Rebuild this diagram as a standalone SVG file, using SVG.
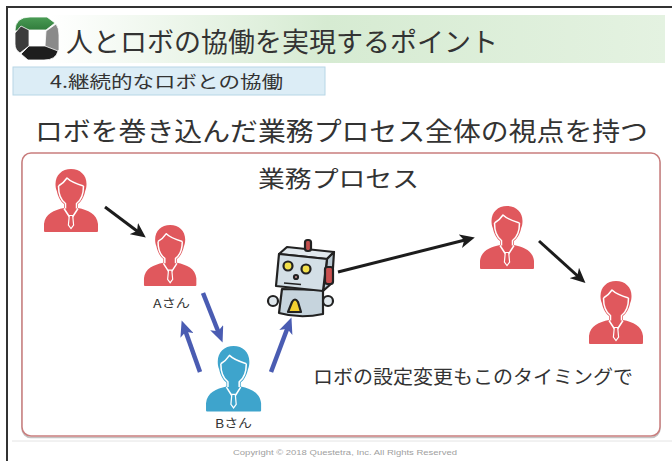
<svg xmlns="http://www.w3.org/2000/svg" width="672" height="461" viewBox="0 0 672 461">
  <style>
    .jp { font-family: "Noto Sans CJK JP", "Noto Sans", sans-serif; fill: #333; }
    .lat { font-family: "Liberation Sans", Arial, sans-serif; }
    .blk { fill: none; stroke: #1c1c1c; stroke-width: 3; }
    .blu { fill: none; stroke: #4a5cb2; stroke-width: 4.5; }
    .ol { stroke: #222; stroke-width: 2.2; stroke-linejoin: round; }
  </style>
  <defs>
    <linearGradient id="barGrad" x1="0" y1="0" x2="1" y2="0">
      <stop offset="0" stop-color="#ffffff"/>
      <stop offset="0.45" stop-color="#d6ebd2"/>
      <stop offset="1" stop-color="#e4f2e1"/>
    </linearGradient>
    <linearGradient id="logoGreen" x1="0" y1="0" x2="0" y2="1">
      <stop offset="0" stop-color="#4a9c55"/>
      <stop offset="1" stop-color="#2f7a3a"/>
    </linearGradient>
    <marker id="headBlack" markerUnits="userSpaceOnUse" markerWidth="16" markerHeight="14" refX="9" refY="7" orient="auto">
      <path d="M0,0 L15,7 L0,14 L4,7 Z" fill="#1c1c1c"/>
    </marker>
    <marker id="headBlue" markerUnits="userSpaceOnUse" markerWidth="17" markerHeight="14" refX="9" refY="7" orient="auto">
      <path d="M0,0 L16,7 L0,14 L4,7 Z" fill="#4a5cb2"/>
    </marker>
    <!-- business person icon, 56 x 64 box, body colour from currentColor -->
    <g id="man">
      <path fill="currentColor" d="M28,1 C19,1 12.5,7 12.5,16 C12.5,19 13,21 13.8,23 C15,29 18,34 21,36 L21,40 C11,42 2,46 1,56 L1,63 Q1,64 2,64 L54,64 Q55,64 55,63 L55,56 C54,46 45,42 35,40 L35,36 C38,34 41,29 42.2,23 C43,21 43.5,19 43.5,16 C43.5,7 37,1 28,1 Z"/>
      <path fill="none" stroke="#fff" stroke-width="1.5" stroke-linejoin="round" d="M15.5,18 C15.5,27 19,33 22.5,35.5 L22.5,40.5 M33.5,40.5 L33.5,35.5 C37,33 40.5,27 40.5,18 M15.5,18 C19,16 22,13 24,10 C28,14 34,16 40.5,18"/>
      <path fill="none" stroke="#fff" stroke-width="1.5" d="M21,40.5 L26.5,49 M35,40.5 L29.5,49"/>
      <path fill="currentColor" stroke="#fff" stroke-width="1.2" d="M26.3,47.5 L29.7,47.5 L30.6,57 L28,60.5 L25.4,57 Z"/>
    </g>
  </defs>

  <rect width="672" height="461" fill="#ffffff"/>

  <!-- page frame -->
  <path d="M7,461 L7,7 L672,7" fill="none" stroke="#333" stroke-width="2"/>

  <!-- header -->
  <g id="header">
    <rect x="50" y="15" width="615" height="48" fill="url(#barGrad)"/>
    <!-- four rotating arrow segments -->
    <g id="logo" stroke="#ffffff" stroke-width="0.8" stroke-linejoin="round">
      <path fill="url(#logoGreen)" d="M15,31 Q15,17 30,17 L47,17 L55,23 L46,30 L29,30 Z"/>
      <path fill="#8a8a8a" d="M46,31 L56,24 Q59,28 59,35 L59,50 L53,56 L45,46 Z"/>
      <path fill="#1e1e1e" d="M58,51 Q56,60 44,60 L28,60 L21,54 L29,46 L45,46 Z"/>
      <path fill="#3c3c3c" d="M29,46 L20,53 Q15,50 15,44 L15,33 L21,26 L29,30 Z"/>
    </g>
    <text class="jp" x="66" y="52" font-size="27">人とロボの協働を実現するポイント</text>
  </g>

  <g id="subtitle">
    <rect x="13" y="67" width="312" height="28" fill="#dcedf6" stroke="#b7d6e6" stroke-width="1"/>
    <text class="jp" x="50" y="88" font-size="17" textLength="233" lengthAdjust="spacingAndGlyphs">4.継続的なロボとの協働</text>
  </g>

  <text class="jp" x="35" y="141" font-size="26" textLength="613" lengthAdjust="spacingAndGlyphs">ロボを巻き込んだ業務プロセス全体の視点を持つ</text>

  <!-- process frame -->
  <g id="process">
    <rect x="22" y="154.5" width="638" height="283" rx="9" fill="none" stroke="#c4c4c4" stroke-width="1.5"/>
    <rect x="22" y="153" width="638" height="283" rx="9" fill="#fff" stroke="#c97d7d" stroke-width="1.5"/>
    <text class="jp" x="258" y="187" font-size="23" textLength="161" lengthAdjust="spacingAndGlyphs">業務プロセス</text>
  </g>

  <!-- connectors -->
  <g id="connectors">
    <path class="blk" d="M105,207 L141,234" marker-end="url(#headBlack)"/>
    <path class="blk" d="M338,272 L469,239" marker-end="url(#headBlack)"/>
    <path class="blk" d="M539,241 L581,279" marker-end="url(#headBlack)"/>
    <path class="blu" d="M203,293 L220,336" marker-end="url(#headBlue)"/>
    <path class="blu" d="M200,372 L184,327" marker-end="url(#headBlue)"/>
    <path class="blu" d="M271,372 L289,324" marker-end="url(#headBlue)"/>
  </g>

  <!-- people -->
  <g id="person1" color="#e0585d"><use href="#man" transform="translate(43,168)"/></g>
  <g id="personA" color="#e0585d">
    <use href="#man" transform="translate(143,224) scale(0.97)"/>
    <text class="jp" x="153" y="308" font-size="12" textLength="37" lengthAdjust="spacingAndGlyphs">Aさん</text>
  </g>
  <g id="person3" color="#e0585d"><use href="#man" transform="translate(479,205)"/></g>
  <g id="person4" color="#e0585d"><use href="#man" transform="translate(588,280)"/></g>
  <g id="personB" color="#3ea4cc">
    <use href="#man" transform="translate(205,345) scale(1.02,1.04)"/>
    <text class="jp" x="215" y="428" font-size="12" textLength="37" lengthAdjust="spacingAndGlyphs">Bさん</text>
  </g>

  <!-- robot -->
  <g id="robot">
    <path class="ol" fill="#c6d4dd" d="M282,289 L279,313 Q300,319 323,314 L323,290 Z"/>
    <circle class="ol" cx="273" cy="301" r="5" fill="#dfe7ec"/>
    <circle class="ol" cx="328" cy="301" r="5" fill="#dfe7ec"/>
    <path class="ol" fill="#f3cf2f" d="M288,312 L292,302 Q295,297 298,302 L301,312 Z"/>
    <path class="ol" fill="#e1e9ee" d="M279,254 L287,247 L334,252 L327,259 Z"/>
    <path class="ol" fill="#b9c9d3" d="M327,259 L334,252 L332,283 L323,291 Z"/>
    <path class="ol" fill="#d3dfe6" d="M279,254 L327,259 L323,291 L276,286 Z"/>
    <rect class="ol" x="305" y="240" width="6" height="11" rx="2.5" fill="#c24f4d" stroke-width="1.6"/>
    <rect class="ol" x="325" y="267" width="8" height="17" rx="2.5" fill="#c9504f" stroke-width="1.8"/>
    <circle class="ol" cx="288" cy="266" r="4.5" fill="#f2e04a" stroke-width="1.6"/>
    <circle class="ol" cx="306" cy="269" r="4.5" fill="#f2e04a" stroke-width="1.6"/>
    <circle class="ol" cx="296" cy="277" r="2" fill="#d9a0a0" stroke-width="1"/>
    <path d="M284,283 L301,284.5" stroke="#222" stroke-width="1.6"/>
  </g>

  <text class="jp" x="313" y="384" font-size="19" textLength="320" lengthAdjust="spacingAndGlyphs">ロボの設定変更もこのタイミングで</text>

  <!-- footer -->
  <line x1="12" y1="441" x2="672" y2="441" stroke="#e4e4e4" stroke-width="1"/>
  <text class="lat" x="233" y="455" font-size="8" fill="#a0a0a0" textLength="224" lengthAdjust="spacingAndGlyphs">Copyright © 2018 Questetra, Inc. All Rights Reserved</text>
</svg>
